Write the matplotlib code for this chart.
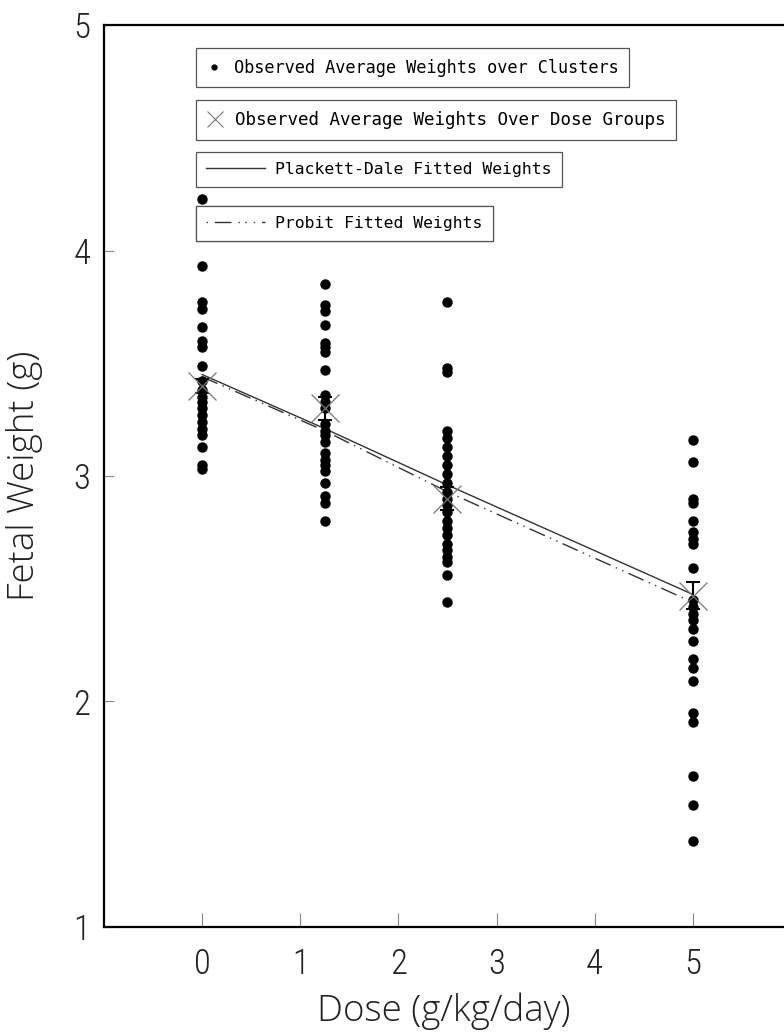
import matplotlib.pyplot as plt
from matplotlib.lines import Line2D

# ---- DATA ----
doses = [0, 1.25, 2.5, 5]

# average fetal weight per litter (cluster), grouped by dose
cluster_w0 = [4.23, 3.93, 3.77, 3.74, 3.66, 3.60, 3.57, 3.49, 3.42, 3.38,
              3.35, 3.33, 3.30, 3.27, 3.24, 3.21, 3.18, 3.13, 3.05, 3.03]
cluster_w1 = [3.85, 3.76, 3.73, 3.67, 3.59, 3.57, 3.55, 3.47, 3.36, 3.33,
              3.30, 3.23, 3.20, 3.18, 3.15, 3.10, 3.07, 3.05, 3.02, 2.97,
              2.91, 2.88, 2.80]
cluster_w2 = [3.77, 3.48, 3.46, 3.20, 3.17, 3.13, 3.09, 3.05, 3.01, 2.97,
              2.93, 2.90, 2.87, 2.84, 2.80, 2.77, 2.74, 2.70, 2.67, 2.64,
              2.62, 2.56, 2.44]
cluster_w5 = [3.16, 3.06, 2.90, 2.88, 2.80, 2.75, 2.72, 2.70, 2.59, 2.45,
              2.42, 2.39, 2.36, 2.32, 2.27, 2.19, 2.15, 2.09, 1.95, 1.91,
              1.67, 1.54, 1.38]
clusters = [cluster_w0, cluster_w1, cluster_w2, cluster_w5]

group_mean = [3.40, 3.30, 2.90, 2.47]
group_err = [0.03, 0.05, 0.05, 0.06]

pd_fit = [3.45, 3.21, 2.96, 2.475]
probit_fit = [3.44, 3.20, 2.93, 2.44]

x_ticks = [0, 1, 2, 3, 4, 5]
y_ticks = [1, 2, 3, 4, 5]

# ---- PLOT ----
tick_font = ["Roboto Condensed", "Roboto", "DejaVu Sans"]
label_font = ["Open Sans", "Roboto", "DejaVu Sans"]
legend_font = "DejaVu Sans Mono"
line_col = "#333333"
text_col = "#222222"

fig = plt.figure(figsize=(7.84, 10.34), dpi=100)
ax = fig.add_axes([0.1327, 0.1035, 0.8673, 0.8723])

for d, ws in zip(doses, clusters):
    ax.plot([d] * len(ws), ws, "o", color="black", markersize=7.5,
            markeredgewidth=0, zorder=3)

ax.errorbar(doses, group_mean, yerr=group_err, fmt="none", ecolor="black",
            elinewidth=1.5, capsize=5, capthick=1.5, zorder=4)
ax.plot(doses, group_mean, "x", color="#777777", markersize=20,
        markeredgewidth=0.9, zorder=5)

ax.plot(doses, pd_fit, "-", color=line_col, lw=1.0, zorder=2)
ax.plot(doses, probit_fit, color=line_col, lw=1.0, zorder=2,
        dashes=[12, 4, 1, 4, 1, 4])

ax.set_xlim(-1, 5.93)
ax.set_ylim(1, 5)
ax.set_xticks(x_ticks)
ax.set_yticks(y_ticks)
ax.set_xticklabels([str(t) for t in x_ticks], family=tick_font,
                   fontsize=25, fontweight="light", color=text_col)
ax.set_yticklabels([str(t) for t in y_ticks], family=tick_font,
                   fontsize=25, fontweight="light", color=text_col)
ax.tick_params(axis="x", direction="in", length=10, width=0.8,
               color="#888888", pad=15)
ax.tick_params(axis="y", direction="in", length=7, width=0.8,
               color="#888888", pad=10)

ax.set_xlabel("Dose (g/kg/day)", family=label_font, fontsize=26.5,
              fontweight="light", color=text_col, labelpad=8)
ax.set_ylabel("Fetal Weight (g)", family=label_font, fontsize=26.5,
              fontweight="light", color=text_col, labelpad=22)

for side in ["left", "bottom", "top"]:
    ax.spines[side].set_linewidth(1.6)
ax.spines["right"].set_visible(False)

# ---- LEGEND: one framed box per entry ----
entries = [
    (Line2D([], [], ls="none", marker="o", color="black", markersize=3.5),
     "Observed Average Weights over Clusters", 0.9745, 12.2),
    (Line2D([], [], ls="none", marker="x", color="#777777", markersize=11,
            markeredgewidth=0.8),
     "Observed Average Weights Over Dose Groups", 0.9169, 12.6),
    (Line2D([], [], ls="-", color=line_col, lw=1.0),
     "Plackett-Dale Fitted Weights", 0.8592, 11.8),
    (Line2D([], [], color=line_col, lw=1.0, dashes=[1, 5, 12, 5, 1, 4, 1, 5]),
     "Probit Fitted Weights", 0.7993, 11.8),
]
for handle, label, top, size in entries:
    short = handle.get_linestyle() == "None"
    leg = ax.legend([handle], [label], loc="upper left",
                    bbox_to_anchor=(0.1353, top), borderaxespad=0,
                    prop={"family": legend_font, "size": size},
                    handlelength=0.9 if short else 3.6,
                    handletextpad=0.7 if short else 0.6,
                    borderpad=0.62, fancybox=False, framealpha=1,
                    edgecolor="#555555")
    leg.get_frame().set_linewidth(0.9)
    ax.add_artist(leg)

plt.savefig("out.png", dpi=100)
